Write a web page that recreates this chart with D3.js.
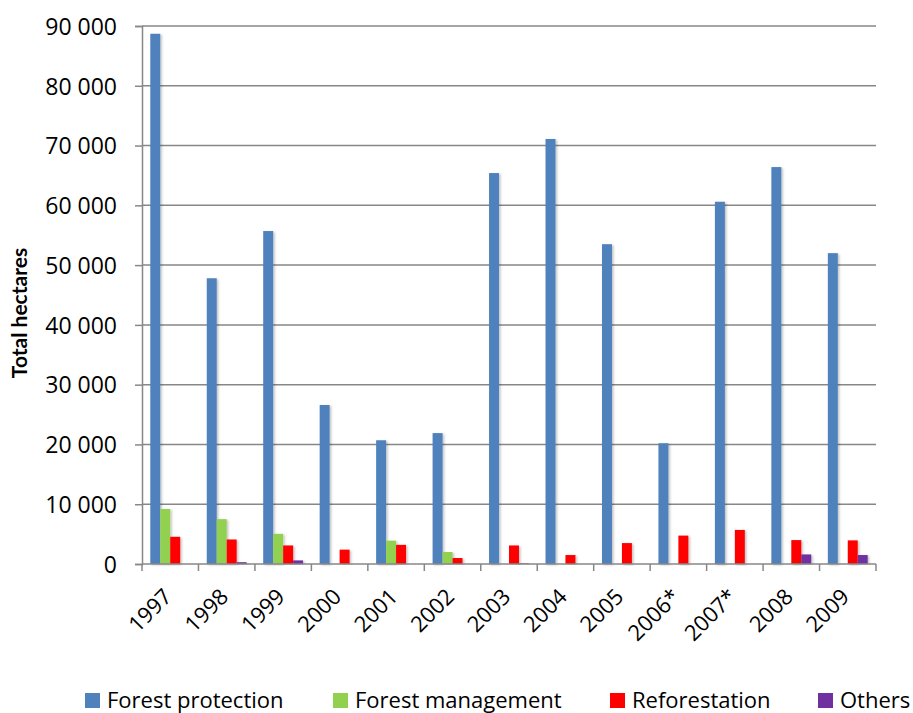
<!DOCTYPE html>
<html>
<head>
<meta charset="utf-8">
<script src="https://cdn.jsdelivr.net/npm/d3@7"></script>
<style>
  body { margin: 0; background: #fff; }
  text { font-family: "Open Sans", Lato, sans-serif; fill: #000; }
</style>
</head>
<body>
<div id="chart"></div>
<script>
"use strict";

// chart data
const years = ["1997", "1998", "1999", "2000", "2001", "2002", "2003", "2004", "2005", "2006*", "2007*", "2008", "2009"];
const seriesNames = ["Forest protection", "Forest management", "Reforestation", "Others"];
const forestProtection = [88700, 47800, 55700, 26600, 20700, 21900, 65400, 71100, 53500, 20200, 60600, 66400, 52000];
const forestManagement = [9200, 7500, 5050, 0, 3900, 2000, 0, 0, 0, 0, 0, 0, 0];
const reforestation = [4550, 4100, 3100, 2400, 3200, 1000, 3100, 1500, 3500, 4750, 5700, 4000, 3950];
const others = [0, 300, 600, 0, 0, 0, 100, 0, 0, 0, 0, 1600, 1500];
const yTicks = [0, 10000, 20000, 30000, 40000, 50000, 60000, 70000, 80000, 90000];

const colors = ["#4f81bd", "#92d050", "#ff0000", "#7030a0"];
const allSeries = [forestProtection, forestManagement, reforestation, others];

const width = 913, height = 713;
const margin = { top: 26, right: 37, bottom: 149, left: 142 };

let svg = d3.select("#chart").append("svg")
  .attr("width", width)
  .attr("height", height);

// soft shadow like the office chart
let defs = svg.append("defs");
defs.append("filter").attr("id", "shadow")
  .attr("x", "-20%").attr("y", "-5%").attr("width", "160%").attr("height", "110%")
  .append("feDropShadow")
  .attr("dx", 1.5).attr("dy", 1).attr("stdDeviation", 1)
  .attr("flood-color", "#000").attr("flood-opacity", 0.25);

const x = d3.scaleBand()
  .domain(years)
  .range([margin.left, width - margin.right])
  .paddingInner(0).paddingOuter(0);

const y = d3.scaleLinear()
  .domain([0, 90000])
  .range([height - margin.bottom, margin.top]);

const inset = x.bandwidth() * 0.147;
const x1 = d3.scaleBand()
  .domain(d3.range(seriesNames.length))
  .range([inset, x.bandwidth() - inset]);

const fmt = d => d3.format(",")(d).replace(/,/g, " ");

// gridlines
svg.append("g")
  .selectAll("line")
  .data(yTicks.filter(d => d > 0))
  .join("line")
  .attr("x1", margin.left).attr("x2", width - margin.right)
  .attr("y1", d => y(d)).attr("y2", d => y(d))
  .attr("stroke", "#878787").attr("stroke-width", 1.5);

// y axis
let yAxis = svg.append("g")
  .attr("transform", `translate(${margin.left},0)`)
  .call(d3.axisLeft(y).tickValues(yTicks).tickFormat(fmt).tickSize(7).tickPadding(18));
yAxis.select(".domain").attr("stroke", "#878787").attr("stroke-width", 1.5);
yAxis.selectAll(".tick line").attr("stroke", "#878787").attr("stroke-width", 1.5);
yAxis.selectAll(".tick text")
  .style("font-size", "23px")
  .style("font-family", "'Open Sans', Lato, sans-serif")
  .attr("dy", "0.36em");

// bars
let groups = svg.append("g")
  .selectAll("g")
  .data(years)
  .join("g")
  .attr("transform", d => `translate(${x(d)},0)`);

groups.selectAll("rect")
  .data((d, i) => allSeries.map((s, k) => ({ k: k, v: s[i] })))
  .join("rect")
  .attr("x", d => x1(d.k))
  .attr("width", x1.bandwidth())
  .attr("y", d => y(d.v))
  .attr("height", d => y(0) - y(d.v))
  .attr("fill", d => colors[d.k])
  .attr("filter", "url(#shadow)");

// x axis
let xAxisG = svg.append("g")
  .attr("transform", `translate(0,${y(0)})`);
xAxisG.append("line")
  .attr("x1", margin.left).attr("x2", width - margin.right)
  .attr("stroke", "#878787").attr("stroke-width", 1.5);
xAxisG.selectAll("line.tick")
  .data(years.map(d => x(d)).concat([width - margin.right]))
  .join("line")
  .attr("class", "tick")
  .attr("x1", d => d).attr("x2", d => d)
  .attr("y1", 0).attr("y2", 7)
  .attr("stroke", "#878787").attr("stroke-width", 1.5);
xAxisG.selectAll("text")
  .data(years)
  .join("text")
  .attr("transform", d => `translate(${x(d) + x.bandwidth() / 2 + 3},${34}) rotate(-45)`)
  .attr("text-anchor", "end")
  .style("font-size", "22px")
  .text(d => d);

// y title
svg.append("text")
  .attr("transform", `translate(27,313) rotate(-90)`)
  .attr("text-anchor", "middle")
  .style("font-family", "Lato, sans-serif")
  .style("font-size", "21px")
  .style("font-weight", "bold")
  .text("Total hectares");

// legend
const legendX = [85, 333, 610, 818];
let legend = svg.append("g")
  .selectAll("g")
  .data(seriesNames)
  .join("g")
  .attr("transform", (d, i) => `translate(${legendX[i]},708)`);
legend.append("rect")
  .attr("y", -15).attr("width", 15).attr("height", 15)
  .attr("fill", (d, i) => colors[i]);
legend.append("text")
  .attr("x", 22).attr("y", 0)
  .style("font-size", "22px")
  .text(d => d);
</script>
</body>
</html>
